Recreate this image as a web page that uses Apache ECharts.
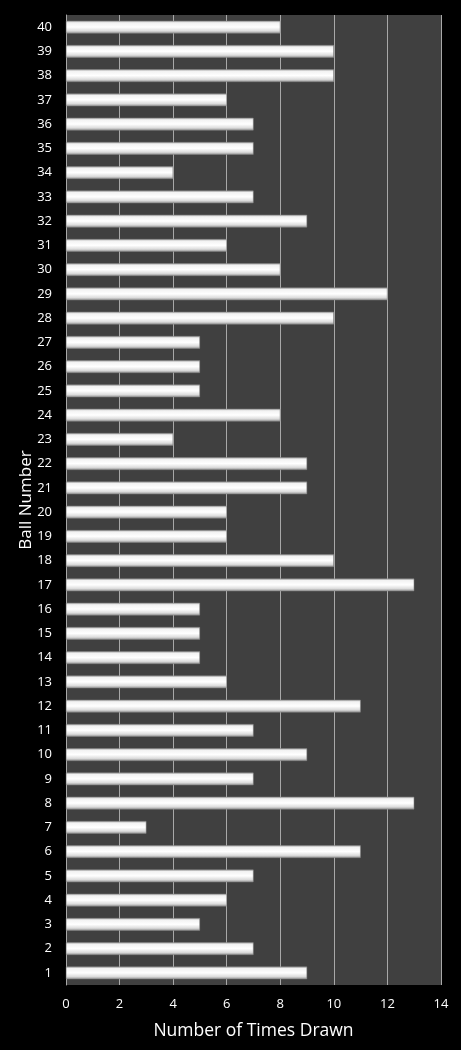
<!DOCTYPE html>
<html>
<head>
<meta charset="utf-8">
<script src="https://cdn.jsdelivr.net/npm/echarts@6/dist/echarts.min.js"></script>
<style>
  html, body { margin: 0; padding: 0; background: #000; }
  #main { width: 461px; height: 1050px; }
</style>
</head>
<body>
<div id="main"></div>
<script>
// ball numbers 1..40 (bottom to top)
var balls = ['1','2','3','4','5','6','7','8','9','10','11','12','13','14','15','16','17','18','19','20',
             '21','22','23','24','25','26','27','28','29','30','31','32','33','34','35','36','37','38','39','40'];
// times drawn per ball
var timesDrawn = [9, 7, 5, 6, 7, 11, 3, 13, 7, 9, 7, 11, 6, 5, 5, 5, 13, 10, 6, 6,
                  9, 9, 4, 8, 5, 5, 5, 10, 12, 8, 6, 9, 7, 4, 7, 7, 6, 10, 10, 8];
var xTicks = [0, 14, 2];

var chart = echarts.init(document.getElementById('main'));

var barFill = new echarts.graphic.LinearGradient(0, 0, 0, 1, [
  { offset: 0, color: '#a0a0a0' },
  { offset: 0.15, color: '#f2f2f2' },
  { offset: 0.5, color: '#ffffff' },
  { offset: 0.8, color: '#dcdcdc' },
  { offset: 1, color: '#909090' }
]);

var option = {
  backgroundColor: '#000000',
  animation: false,
  grid: {
    left: 66, right: 20, top: 15, bottom: 65,
    show: true, backgroundColor: '#404040', borderWidth: 0
  },
  xAxis: {
    type: 'value',
    min: xTicks[0], max: xTicks[1], interval: xTicks[2],
    name: 'Number of Times Drawn',
    nameLocation: 'middle',
    nameGap: 37,
    nameMoveOverlap: false,
    nameTextStyle: { color: '#ffffff', fontSize: 17.5, fontFamily: 'Open Sans' },
    axisLine: { show: false },
    axisTick: { show: false },
    axisLabel: { color: '#ffffff', fontSize: 13, fontFamily: 'Open Sans', margin: 13 },
    splitLine: { show: true, lineStyle: { color: '#a8a8a8', width: 1 } }
  },
  yAxis: {
    type: 'category',
    data: balls,
    name: 'Ball Number',
    nameLocation: 'middle',
    nameGap: 31,
    nameMoveOverlap: false,
    nameTextStyle: { color: '#ffffff', fontSize: 17, fontFamily: 'Open Sans' },
    axisLine: { show: true, lineStyle: { color: '#a8a8a8' } },
    axisTick: { show: false },
    axisLabel: { color: '#ffffff', fontSize: 13, fontFamily: 'Open Sans', margin: 14 }
  },
  series: [{
    type: 'bar',
    data: timesDrawn,
    barWidth: '52%',
    itemStyle: { color: barFill, borderColor: '#8a8a8a', borderWidth: 0.5 }
  }]
};

chart.setOption(option);
</script>
</body>
</html>
